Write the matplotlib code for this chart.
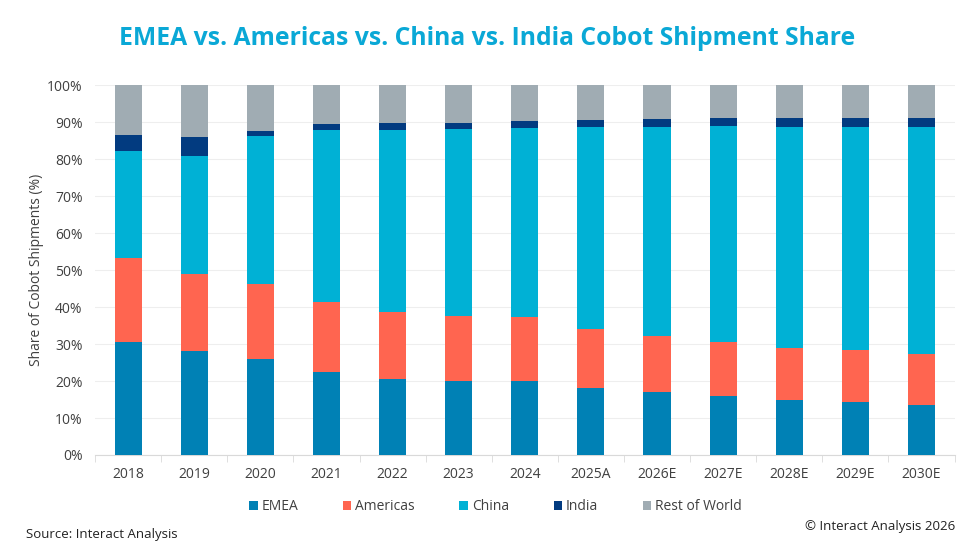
import matplotlib.pyplot as plt
import numpy as np
from matplotlib.ticker import PercentFormatter

plt.rcParams["font.family"] = ["Open Sans", "DejaVu Sans"]

years = ["2018", "2019", "2020", "2021", "2022", "2023", "2024",
         "2025A", "2026E", "2027E", "2028E", "2029E", "2030E"]

# share of shipments, percent
emea = [30.5, 28.1, 25.9, 22.5, 20.6, 20.1, 20.0, 18.2, 17.1, 15.9, 14.9, 14.3, 13.6]
americas = [22.8, 20.8, 20.4, 18.8, 18.1, 17.6, 17.3, 15.8, 15.1, 14.7, 14.0, 14.1, 13.7]
china = [28.9, 31.9, 39.9, 46.5, 49.2, 50.5, 51.1, 54.6, 56.5, 58.3, 59.8, 60.3, 61.4]
india = [4.4, 5.1, 1.5, 1.7, 1.8, 1.6, 1.9, 2.0, 2.1, 2.1, 2.3, 2.3, 2.5]
rest_of_world = [13.4, 14.1, 12.3, 10.5, 10.3, 10.2, 9.7, 9.4, 9.2, 9.0, 9.0, 9.0, 8.8]

series = [
    ("EMEA", emea, "#0081b5"),
    ("Americas", americas, "#ff6550"),
    ("China", china, "#00b1d5"),
    ("India", india, "#023b80"),
    ("Rest of World", rest_of_world, "#a0acb3"),
]

fig = plt.figure(figsize=(9.8, 5.6), dpi=100)
ax = fig.add_axes([0.097, 0.1875, 0.877, 0.6605])

x = np.arange(len(years))
bottom = np.zeros(len(years))
for name, vals, color in series:
    vals = np.array(vals)
    ax.bar(x, vals, 0.41, bottom=bottom, color=color, label=name, zorder=3)
    bottom += vals

ax.set_xlim(-0.5, len(years) - 0.5)
ax.set_ylim(0, 100)
ax.set_yticks(np.arange(0, 101, 10))
ax.yaxis.set_major_formatter(PercentFormatter(decimals=0))
ax.set_xticks(x)
ax.set_xticklabels(years)
ax.set_xticks(np.arange(-0.5, len(years), 1), minor=True)

ax.grid(axis="y", color="#eeeeee", linewidth=0.8, zorder=0)
for side in ["top", "right", "left"]:
    ax.spines[side].set_visible(False)
ax.spines["bottom"].set_color("#d9d9d9")
ax.tick_params(axis="y", length=0, labelsize=10, colors="#404040", pad=9)
ax.tick_params(axis="x", which="major", length=0, labelsize=10, colors="#404040", pad=9)
ax.tick_params(axis="x", which="minor", length=5, color="#d9d9d9")

ax.set_ylabel("Share of Cobot Shipments (%)", fontsize=10, color="#404040", labelpad=2)

fig.text(0.497, 0.932, "EMEA vs. Americas vs. China vs. India Cobot Shipment Share",
         ha="center", va="center", fontsize=17.8, fontweight="bold", color="#0aa8d6")

ax.legend(loc="center", bbox_to_anchor=(0.466, -0.14), ncol=5, frameon=False,
          fontsize=10, handlelength=0.6, handleheight=0.6, handletextpad=0.3,
          columnspacing=3.2, labelcolor="#404040")

fig.text(0.027, 0.046, "Source: Interact Analysis", ha="left", va="center",
         fontsize=9.5, color="#222222")
fig.text(0.975, 0.059, "© Interact Analysis 2026", ha="right", va="center",
         fontsize=9.5, color="#222222")

fig.savefig("out.png", dpi=100)
